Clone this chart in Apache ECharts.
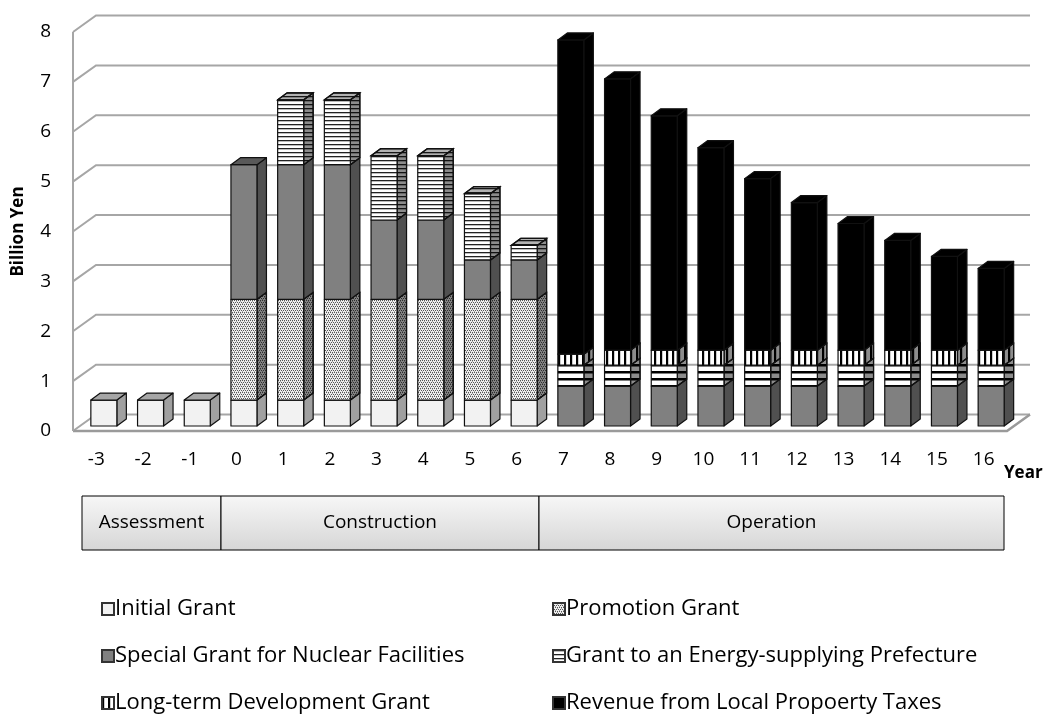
<html lang="en">
<head>
    <meta charset="UTF-8">
    <title>Grants and tax revenue by year</title>
    <script src="https://cdn.jsdelivr.net/npm/echarts@6/dist/echarts.min.js"></script>
</head>
<body style="margin:0">
<div id="mychart" style="width: 1048px;height: 727px;"></div>
<script>
    // years relative to start of construction
    var years = ['-3', '-2', '-1', '0', '1', '2', '3', '4', '5', '6',
        '7', '8', '9', '10', '11', '12', '13', '14', '15', '16'];
    var yTicks = [0, 1, 2, 3, 4, 5, 6, 7, 8];

    // billion yen
    var initialGrant   = [0.52, 0.52, 0.52, 0.52, 0.52, 0.52, 0.52, 0.52, 0.52, 0.52, 0, 0, 0, 0, 0, 0, 0, 0, 0, 0];
    var promotionGrant = [0, 0, 0, 2.02, 2.02, 2.02, 2.02, 2.02, 2.02, 2.02, 0, 0, 0, 0, 0, 0, 0, 0, 0, 0];
    var specialGrant   = [0, 0, 0, 2.70, 2.70, 2.70, 1.59, 1.59, 0.79, 0.79, 0.80, 0.80, 0.80, 0.80, 0.80, 0.80, 0.80, 0.80, 0.80, 0.80];
    var energyGrant    = [0, 0, 0, 0, 1.30, 1.30, 1.29, 1.29, 1.33, 0.29, 0.42, 0.42, 0.42, 0.42, 0.42, 0.42, 0.42, 0.42, 0.42, 0.42];
    var longTermGrant  = [0, 0, 0, 0, 0, 0, 0, 0, 0, 0, 0.22, 0.30, 0.30, 0.30, 0.30, 0.30, 0.30, 0.30, 0.30, 0.30];
    var propertyTax    = [0, 0, 0, 0, 0, 0, 0, 0, 0, 0, 6.30, 5.44, 4.70, 4.06, 3.44, 2.96, 2.54, 2.20, 1.88, 1.64];

    var names = ['Initial Grant', 'Promotion Grant', 'Special Grant for Nuclear Facilities',
        'Grant to an Energy-supplying Prefecture', 'Long-term Development Grant', 'Revenue from Local Propoerty Taxes'];
    var stackData = [initialGrant, promotionGrant, specialGrant, energyGrant, longTermGrant, propertyTax];

    var phases = ['Assessment', 'Construction', 'Operation'];

    // 3D look: wall depth and bar depth in pixels
    var DX = 23, DY = -16.5;
    var BAR_OX = 7.5, BAR_OY = -5, BDX = 9.5, BDY = -7;

    function pattern(w, h, draw) {
        var c = document.createElement('canvas');
        c.width = w; c.height = h;
        var ctx = c.getContext('2d');
        draw(ctx);
        return {image: c, repeat: 'repeat'};
    }

    var dots = pattern(4, 4, function (ctx) {
        ctx.fillStyle = '#eeeeee'; ctx.fillRect(0, 0, 4, 4);
        ctx.fillStyle = '#555555';
        ctx.fillRect(0, 0, 1, 1); ctx.fillRect(2, 0, 1, 1);
        ctx.fillRect(1, 2, 1, 1); ctx.fillRect(3, 2, 1, 1);
        ctx.fillStyle = '#aaaaaa';
        ctx.fillRect(0, 1, 1, 1); ctx.fillRect(2, 3, 1, 1);
    });
    var hLinesFine = pattern(4, 4, function (ctx) {
        ctx.fillStyle = '#ffffff'; ctx.fillRect(0, 0, 4, 4);
        ctx.fillStyle = '#222'; ctx.fillRect(0, 0, 4, 1.3);
    });
    var hLinesWide = pattern(7, 7, function (ctx) {
        ctx.fillStyle = '#ffffff'; ctx.fillRect(0, 0, 7, 7);
        ctx.fillStyle = '#000'; ctx.fillRect(0, 0, 7, 2.5);
    });
    var vLines = pattern(6.5, 6, function (ctx) {
        ctx.fillStyle = '#ffffff'; ctx.fillRect(0, 0, 7, 6);
        ctx.fillStyle = '#000'; ctx.fillRect(0, 0, 2.2, 6);
    });

    var fronts = ['#f2f2f2', dots, '#808080', hLinesFine, vLines, '#000000'];
    var sides = ['#a0a0a0', dots, '#505050', hLinesFine, vLines, '#000000'];
    var shade = [0, 0.45, 0, 0.45, 0.45, 0];
    var tops = ['#a6a6a6', dots, '#595959', hLinesFine, vLines, '#000000'];

    function segmentRender(k) {
        return function (params, api) {
            var i = api.value(0), b = api.value(1), t = api.value(2), total = api.value(3);
            if (t - b <= 0) return;
            var pb = api.coord([i, b]), pt = api.coord([i, t]);
            var w = 26;
            var x0 = pb[0] + BAR_OX - w / 2, x1 = x0 + w;
            var yb = pb[1] + BAR_OY, yt = pt[1] + BAR_OY;
            var front = fronts[k], side = sides[k], top = tops[k];
            if (k === 3 && i >= 10) { front = hLinesWide; side = hLinesWide; top = hLinesWide; }
            var line = {stroke: '#111', lineWidth: 1.2, lineJoin: 'round'};
            var children = [];
            var sidePts = [[x1, yb], [x1 + BDX, yb + BDY], [x1 + BDX, yt + BDY], [x1, yt]];
            children.push({type: 'polygon', shape: {points: sidePts}, style: Object.assign({fill: side}, line)});
            if (shade[k]) {
                children.push({type: 'polygon', shape: {points: sidePts}, style: {fill: 'rgba(0,0,0,' + shade[k] + ')', stroke: '#111', lineWidth: 1.2}});
            }
            children.push({type: 'rect', shape: {x: x0, y: yt, width: w, height: yb - yt}, style: Object.assign({fill: front}, line)});
            if (Math.abs(t - total) < 1e-6) {
                var topPts = [[x0, yt], [x1, yt], [x1 + BDX, yt + BDY], [x0 + BDX, yt + BDY]];
                children.push({type: 'polygon', shape: {points: topPts}, style: Object.assign({fill: top}, line)});
                if (shade[k]) {
                    children.push({type: 'polygon', shape: {points: topPts}, style: {fill: 'rgba(0,0,0,0.3)', stroke: '#111', lineWidth: 1.2}});
                }
            }
            return {type: 'group', children: children};
        };
    }

    function wallRender(params, api) {
        var cs = params.coordSys;
        var v = api.value(1);
        var y = api.coord([0, v])[1];
        var y0 = api.coord([0, 0])[1];
        var grey = {stroke: '#a6a6a6', lineWidth: 2, fill: null};
        var children = [{
            type: 'polyline',
            shape: {points: [[cs.x, y], [cs.x + DX, y + DY], [cs.x + cs.width + DX, y + DY]]},
            style: grey
        }];
        if (v === 0) {
            children.push({
                type: 'polyline',
                shape: {points: [[cs.x, y], [cs.x + cs.width, y], [cs.x + cs.width + DX, y + DY]]},
                style: {stroke: '#9a9a9a', lineWidth: 2.5, fill: null}
            });
        }
        if (v === yTicks[yTicks.length - 1]) {
            children.push({type: 'line', shape: {x1: cs.x, y1: y, x2: cs.x, y2: y0}, style: grey});
        }
        return {type: 'group', children: children};
    }

    var totals = years.map(function (y, i) {
        var s = 0;
        stackData.forEach(function (arr) { s += arr[i]; });
        return s;
    });

    var series = [{
        type: 'custom',
        name: 'walls',
        renderItem: wallRender,
        data: yTicks.map(function (v) { return [0, v]; }),
        silent: true,
        z: 1
    }];
    stackData.forEach(function (arr, k) {
        var data = arr.map(function (v, i) {
            var base = 0;
            for (var j = 0; j < k; j++) base += stackData[j][i];
            return [i, base, base + v, totals[i]];
        });
        series.push({
            type: 'custom',
            name: names[k],
            renderItem: segmentRender(k),
            data: data,
            encode: {x: 0, y: [1, 2]},
            itemStyle: {color: fronts[k], borderColor: '#333', borderWidth: 1},
            z: 2
        });
    });

    var font = '"Open Sans", Lato, sans-serif';
    var legendBase = {
        orient: 'vertical',
        icon: 'rect',
        itemWidth: 12,
        itemHeight: 12,
        itemGap: 25,
        textStyle: {fontFamily: font, fontSize: 22, color: '#000', padding: [0, 0, 0, -4]},
        selectedMode: false
    };

    // phase band under the axis
    var phaseBoxes = [[82, 221], [221, 539], [539, 1004]];
    var graphics = [];
    phaseBoxes.forEach(function (b, i) {
        graphics.push({
            type: 'rect',
            shape: {x: b[0], y: 496, width: b[1] - b[0], height: 54},
            style: {
                fill: new echarts.graphic.LinearGradient(0, 0, 0, 1, [
                    {offset: 0, color: '#f7f7f7'}, {offset: 1, color: '#d6d6d6'}]),
                stroke: '#000', lineWidth: 1
            }
        });
        graphics.push({
            type: 'text',
            x: (b[0] + b[1]) / 2, y: 523,
            style: {text: phases[i], font: '19px ' + font, fill: '#000', align: 'center', verticalAlign: 'middle'}
        });
    });
    graphics.push({
        type: 'text', x: 1004, y: 473,
        style: {text: 'Year', font: 'bold 17px ' + font, fill: '#000', align: 'left', verticalAlign: 'middle'}
    });

    var e = echarts.init(document.getElementById('mychart'));
    e.setOption({
        animation: false,
        grid: {left: 73, right: 41, top: 32, bottom: 296},
        xAxis: {
            type: 'category',
            data: years,
            axisLine: {show: false},
            axisTick: {show: false},
            axisLabel: {fontFamily: font, fontSize: 19, color: '#000', margin: 19}
        },
        yAxis: {
            type: 'value',
            min: 0,
            max: 8,
            interval: 1,
            name: 'Billion Yen',
            nameLocation: 'middle',
            nameGap: 46,
            nameRotate: 90,
            nameTextStyle: {fontFamily: font, fontSize: 17, fontWeight: 'bold', color: '#000'},
            axisLine: {show: false},
            axisTick: {show: false},
            splitLine: {show: false},
            axisLabel: {fontFamily: font, fontSize: 19, color: '#000', margin: 22}
        },
        legend: [
            Object.assign({left: 96, top: 593, data: [names[0], names[2], names[4]]}, legendBase),
            Object.assign({left: 547, top: 593, data: [names[1], names[3], names[5]]}, legendBase)
        ],
        graphic: graphics,
        series: series
    });
</script>
</body>
</html>
